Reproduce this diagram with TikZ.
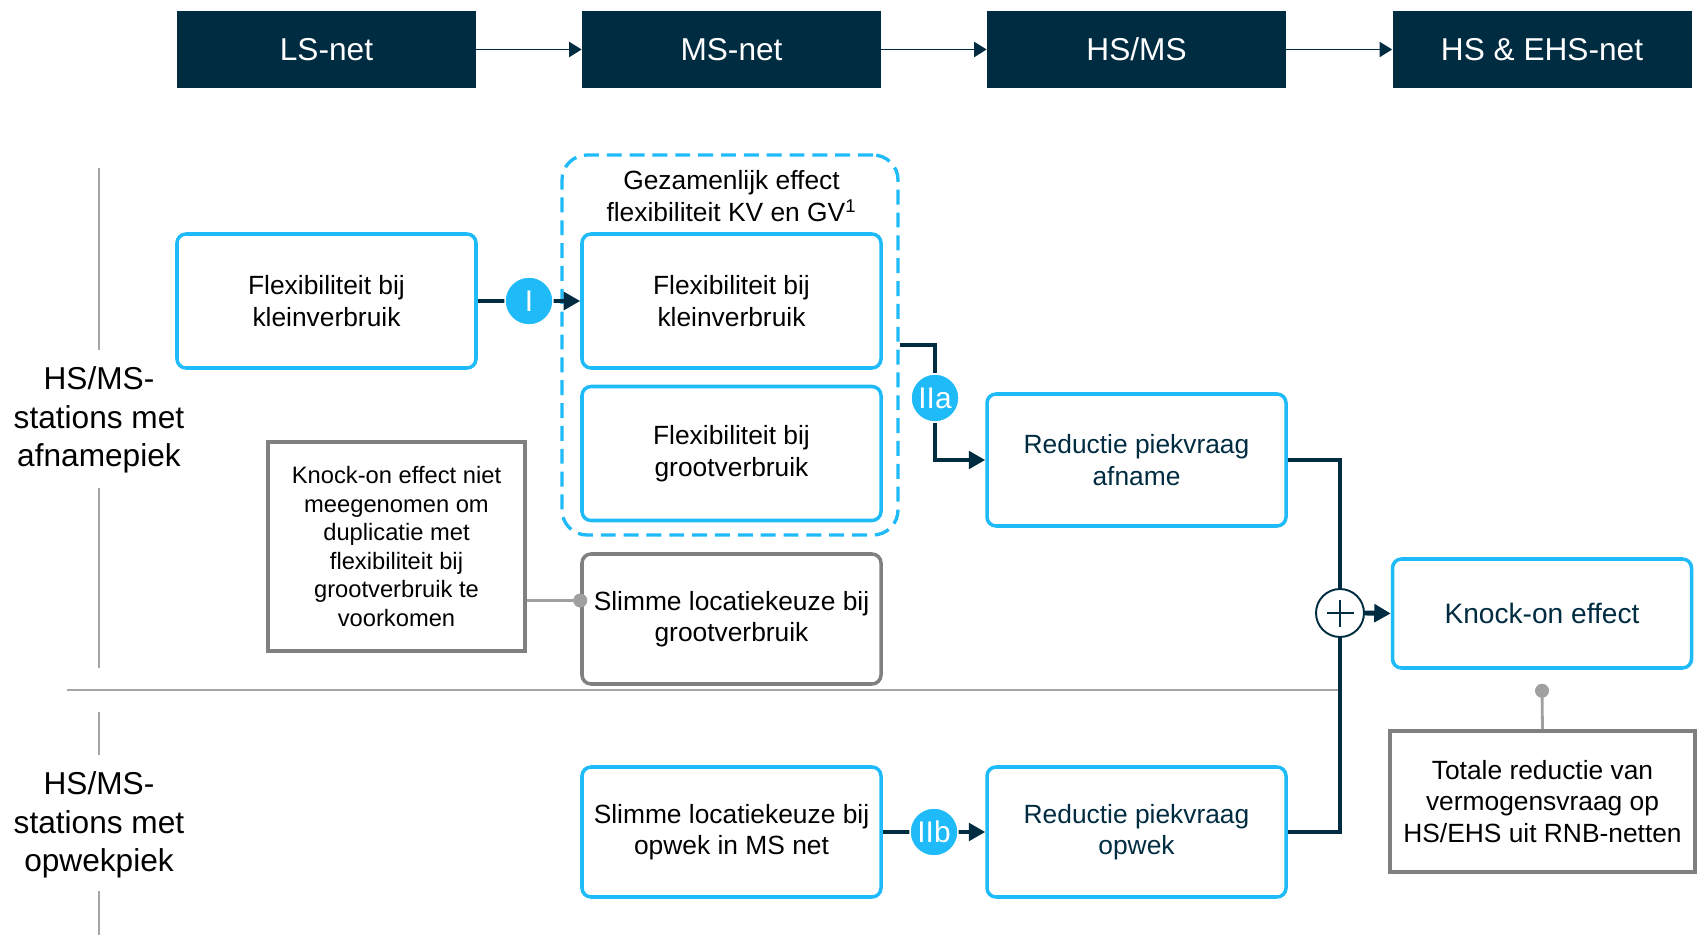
\documentclass[tikz,border=0pt]{standalone}
\usepackage{fontspec}
\setmainfont{Liberation Sans}
\usetikzlibrary{arrows.meta,calc,positioning}
\definecolor{NetNavy}{HTML}{002C42}
\definecolor{FlexCyan}{HTML}{1FBAF8}
\definecolor{NoteGray}{HTML}{808080}
\definecolor{LinkGray}{HTML}{A0A0A0}
\definecolor{RuleGray}{HTML}{A6A6A6}
\tikzset{
  netbox/.style={fill=NetNavy, text=white, minimum width=5.98cm, minimum height=1.54cm,
             inner sep=0pt, font=\fontsize{18}{21}\selectfont},
  flexbox/.style={draw=FlexCyan, line width=2pt, rounded corners=1.8mm, fill=white,
             minimum width=5.98cm, minimum height=2.68cm, inner sep=2pt, align=center,
             font=\fontsize{15}{18}\selectfont},
  notebox/.style={draw=NoteGray, line width=2pt, fill=white, inner sep=2pt, align=center,
             font=\fontsize{15}{18}\selectfont},
  badge/.style={circle, fill=FlexCyan, draw=white, line width=0.8pt, text=white,
             minimum size=0.96cm, inner sep=0pt, font=\fontsize{17}{19}\selectfont},
  rowlabel/.style={align=center, inner sep=0pt, font=\fontsize{18}{22}\selectfont},
  netflow/.style={-{Triangle[length=2.5mm, width=3mm]}, line width=1.1pt, draw=NetNavy},
  flowline/.style={line width=2.8pt, draw=NetNavy},
  flow/.style={flowline, -{Triangle[length=3.3mm, width=3.5mm]}},
  notelink/.style={line width=1.6pt, draw=LinkGray},
  rule/.style={line width=1.1pt, draw=RuleGray},
}
\begin{document}
\begin{tikzpicture}
\useasboundingbox (0,0) rectangle (34.08,18.72);
% ---------- grid levels
\node[netbox] (LS) at (6.53,17.73) {LS-net};
\node[netbox] (MS) at (14.63,17.73) {MS-net};
\node[netbox] (HM) at (22.73,17.73) {HS/MS};
\node[netbox] (HE) at (30.84,17.73) {HS \& EHS-net};
\draw[netflow] (LS) -- (MS);
\draw[netflow] (MS) -- (HM);
\draw[netflow] (HM) -- (HE);
% ---------- row labels
\node[rowlabel] (RowA) at (1.98,10.32) {HS/MS-\\stations met\\afnamepiek};
\node[rowlabel] (RowB) at (1.98,2.22) {HS/MS-\\stations met\\opwekpiek};
\draw[rule] (1.98,15.36) -- (1.98,11.72);
\draw[rule] (1.98,8.96) -- (1.98,5.36);
\draw[rule] (1.98,4.48) -- (1.98,3.62);
\draw[rule] (1.98,0.9) -- (1.98,0.02);
\draw[rule] (1.34,4.92) -- (26.8,4.92);
% ---------- afnamepiek
\node[draw=FlexCyan, line width=1.9pt, dash pattern=on 8.5pt off 4.5pt, rounded corners=5mm,
      minimum width=6.72cm, minimum height=7.6cm] (G) at (14.6,11.82) {};
\node[align=center, font=\fontsize{15}{18.1}\selectfont] (GT) at (14.63,14.8)
  {Gezamenlijk effect\\flexibiliteit KV en GV\textsuperscript{1}};
\node[flexbox] (FKl) at (6.53,12.70) {Flexibiliteit bij\\kleinverbruik};
\node[flexbox] (FKm) at (14.63,12.70) {Flexibiliteit bij\\kleinverbruik};
\node[flexbox] (FG) at (14.63,9.65) {Flexibiliteit bij\\grootverbruik};
\node[notebox, rounded corners=1.8mm, minimum width=5.98cm, minimum height=2.6cm] (SG) at (14.63,6.34)
  {Slimme locatiekeuze bij\\grootverbruik};
\node[notebox, minimum width=5.14cm, minimum height=4.18cm, font=\fontsize{13.5}{16.3}\selectfont] (KN) at (7.93,7.79)
  {Knock-on effect niet\\meegenomen om\\duplicatie met\\flexibiliteit bij\\grootverbruik te\\voorkomen};
\node[flexbox, text=NetNavy, minimum height=2.64cm] (RA) at (22.73,9.52) {Reductie piekvraag\\afname};
\draw[flow] (FKl.east) -- node[badge] (I) {I} (FKm.west);
\node[badge] (IIa) at (18.7,10.76) {IIa};
\draw[flowline] (G.east) -| (IIa.north);
\draw[flow] (IIa.south) |- (RA.west);
\coordinate (dotA) at ($(SG.west)+(0,0.37)$);
\draw[notelink] (KN.east |- dotA) -- (dotA);
\fill[LinkGray] (dotA) circle (0.14);
% ---------- opwekpiek
\node[flexbox, minimum height=2.6cm] (SO) at (14.63,2.08) {Slimme locatiekeuze bij\\opwek in MS net};
\node[flexbox, text=NetNavy, minimum height=2.6cm] (RO) at (22.73,2.08) {Reductie piekvraag\\opwek};
\draw[flow] (SO.east) -- node[badge] (IIb) {IIb} (RO.west);
% ---------- knock-on
\node[circle, draw=NetNavy, line width=1.1pt, fill=white, minimum size=0.96cm, inner sep=0pt] (plus) at (26.8,6.46) {};
\draw[NetNavy, line width=1.1pt] ($(plus.center)+(-0.27,0)$) -- ($(plus.center)+(0.27,0)$)
  ($(plus.center)+(0,-0.27)$) -- ($(plus.center)+(0,0.27)$);
\node[flexbox, text=NetNavy, minimum height=2.18cm, font=\fontsize{16}{19}\selectfont] (KO) at (30.84,6.45) {Knock-on effect};
\node[notebox, minimum width=6.1cm, minimum height=2.82cm] (TR) at (30.85,2.69)
  {Totale reductie van\\vermogensvraag op\\HS/EHS uit RNB-netten};
\draw[flowline] (RA.east) -| (plus.north);
\draw[flowline] (RO.east) -| (plus.south);
\draw[flow] (plus.east) -- (KO.west);
\coordinate (dotB) at ($(KO.south)+(0,-0.42)$);
\draw[notelink] (TR.north) -- (dotB);
\fill[LinkGray] (dotB) circle (0.14);
\end{tikzpicture}
\end{document}
